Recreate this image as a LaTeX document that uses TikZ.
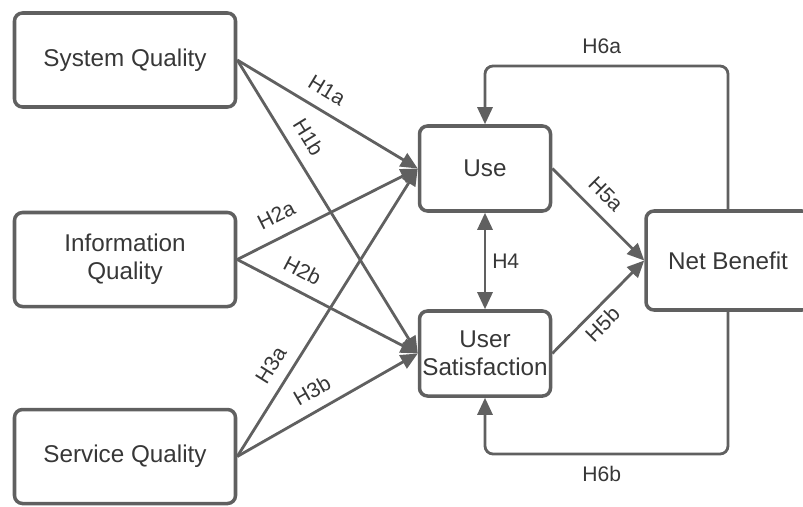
\documentclass[tikz,border=0pt]{standalone}
\usepackage{fontspec}
\setmainfont{Liberation Sans}
\usetikzlibrary{arrows.meta}
\definecolor{linegray}{RGB}{96,96,96}
\definecolor{textgray}{RGB}{55,55,55}

\begin{document}
\begin{tikzpicture}[
  >={Triangle[length=0.34cm, width=0.3cm]},
  box/.style={draw=linegray, line width=2pt, rounded corners=0.16cm, text=textgray,
    align=center, font=\fontsize{13.8}{16}\selectfont},
  side/.style={box, minimum width=4.42cm, minimum height=1.88cm},
  mid/.style={box, minimum width=2.62cm, minimum height=1.7cm, inner sep=1pt},
  link/.style={draw=linegray, line width=1.6pt, ->},
  hyp/.style={text=textgray, font=\fontsize{12}{14}\selectfont, sloped, above=3pt}
]
\useasboundingbox (0,0) rectangle (16.06,10.12);

% constructs
\node[side] (sysq) at (2.5,8.92) {System Quality};
\node[side] (infq) at (2.5,4.93) {Information\\Quality};
\node[side] (servq) at (2.5,0.99) {Service Quality};
\node[mid] (use) at (9.7,6.75) {Use};
\node[mid] (usat) at (9.7,3.05) {User\\Satisfaction};
\node[box, minimum width=3.28cm, minimum height=1.98cm] (netb) at (14.56,4.91) {Net Benefit};

% hypotheses
\draw[link] (sysq.east) -- node[hyp, pos=0.44]{H1a} (use.west);
\draw[link] (sysq.east) -- node[hyp, pos=0.30]{H1b} (usat.west);
\draw[link] (infq.east) -- node[hyp, above=1pt, pos=0.27]{H2a} (use.west);
\draw[link] (infq.east) -- node[hyp, pos=0.31]{H2b} (usat.west);
\draw[link] (servq.east) -- node[hyp, pos=0.28]{H3a} (use.west);
\draw[link] (servq.east) -- node[hyp, pos=0.47]{H3b} (usat.west);
\draw[link, <->] (use.south) -- node[right, text=textgray, font=\fontsize{12}{14}\selectfont]{H4} (usat.north);
\draw[link] (use.east) -- node[hyp, pos=0.43]{H5a} (netb.west);
\draw[link] (usat.east) -- node[hyp, below=3pt, pos=0.43]{H5b} (netb.west);

% feedback loops
\coordinate (toptrack) at (9.7,8.8);
\coordinate (bottrack) at (9.7,1.04);
\draw[link, rounded corners=0.16cm] (netb.north) |- node[hyp, pos=0.76]{H6a} (toptrack) -- (use.north);
\draw[link, rounded corners=0.16cm] (netb.south) |- node[hyp, below=6pt, pos=0.76]{H6b} (bottrack) -- (usat.south);
\end{tikzpicture}
\end{document}
